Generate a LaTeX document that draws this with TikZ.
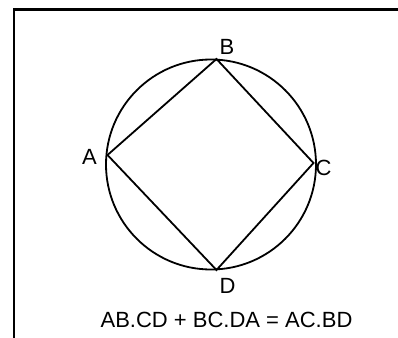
\documentclass[tikz,border=0pt]{standalone}
\usepackage{fontspec}
\setmainfont{Liberation Sans}
\begin{document}
\begin{tikzpicture}[x=1pt,y=-1pt,
  lbl/.style={inner sep=0pt,anchor=base,font=\fontsize{22}{24}\selectfont},
  geo/.style={line width=1.8pt},
  framebox/.style={line width=2.2pt}]
\useasboundingbox (0,0) rectangle (398,337);
\draw[framebox] (14.3,340) -- (14.3,9.5) -- (400,9.5);
\coordinate (O) at (211,164.5);
\draw[geo] (O) circle[radius=105];
\coordinate (A) at (107.5,155);
\coordinate (B) at (216.5,59);
\coordinate (C) at (313.5,163);
\coordinate (D) at (216.5,270);
\draw[geo,line join=miter] (A) -- (B) -- (C) -- (D) -- cycle;
\node[lbl] (lA) at (89.5,164) {A};
\node[lbl] (lB) at (227,55) {B};
\node[lbl] (lC) at (323.5,175) {C};
\node[lbl] (lD) at (227.5,293) {D};
\node[lbl] (eq) at (226.5,327) {AB.CD + BC.DA = AC.BD};
\end{tikzpicture}
\end{document}
